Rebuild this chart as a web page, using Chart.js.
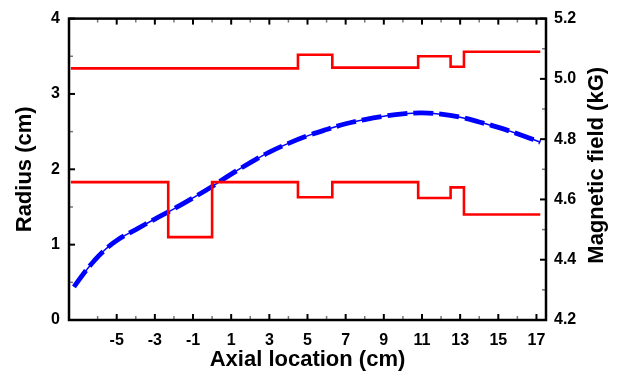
<!DOCTYPE html>
<html>
<head>
<meta charset="utf-8">
<script src="https://cdn.jsdelivr.net/npm/chart.js@4.4.1/dist/chart.umd.min.js"></script>
<style>
  html, body { margin: 0; padding: 0; background: #fff; }
  #wrap { width: 618px; height: 376px; }
</style>
</head>
<body>
<div id="wrap"><canvas id="fieldChart" width="618" height="376"></canvas></div>
<script>
// Electrode radius steps (left axis, cm): x where a step starts, radius after it
const outerEdges = [-7.4, 4.5, 6.3, 10.8, 12.5, 13.2, 17.2];
const outerRadius = [3.34, 3.52, 3.35, 3.50, 3.36, 3.56, 3.56];
const innerEdges = [-7.4, -2.3, 0.0, 4.5, 6.3, 10.8, 12.5, 13.2, 17.2];
const innerRadius = [1.83, 1.10, 1.83, 1.63, 1.83, 1.62, 1.76, 1.40, 1.40];

// Magnetic field profile (right axis, kG)
const fieldX = [-7.24, -6.7, -6.2, -5.7, -5, -4, -3, -2, -1, 0, 1, 2, 3, 4, 5, 6, 7, 8, 9, 10, 11, 12, 13, 14, 15, 16, 17.2];
const fieldKG = [4.310, 4.357, 4.395, 4.428, 4.464, 4.500, 4.535, 4.569, 4.605, 4.643, 4.684, 4.722, 4.757, 4.786, 4.811, 4.832, 4.851, 4.865, 4.876, 4.884, 4.887, 4.883, 4.873, 4.857, 4.839, 4.818, 4.790];

// Tick positions
const xTicks = [-5, -3, -1, 1, 3, 5, 7, 9, 11, 13, 15, 17];
const xMinorTicks = [-6, -4, -2, 0, 2, 4, 6, 8, 10, 12, 14, 16];
const radiusTicks = [0, 1, 2, 3, 4];
const radiusMinorTicks = [0.5, 1.5, 2.5, 3.5];
const fieldTicks = [4.2, 4.4, 4.6, 4.8, 5.0, 5.2];
const fieldMinorTicks = [4.3, 4.5, 4.7, 4.9, 5.1];

const FONT = "'Liberation Sans', Arial, sans-serif";

function toPoints(xs, ys) {
  return xs.map((x, i) => ({ x: x, y: ys[i] }));
}

// frame with inward ticks, plus the right-hand title read bottom-to-top
const framePlugin = {
  id: 'framePlugin',
  afterDatasetsDraw(chart) {
    const { ctx, chartArea: a, scales } = chart;
    ctx.save();
    ctx.lineCap = 'butt';

    function line(x1, y1, x2, y2, color, w) {
      ctx.beginPath();
      ctx.strokeStyle = color;
      ctx.lineWidth = w;
      ctx.moveTo(x1, y1);
      ctx.lineTo(x2, y2);
      ctx.stroke();
    }

    xTicks.forEach(v => {
      const px = scales.x.getPixelForValue(v);
      line(px, a.bottom, px, a.bottom - 6, '#000', 2);
      line(px, a.top, px, a.top + 6, '#000', 2);
    });
    xMinorTicks.forEach(v => {
      const px = scales.x.getPixelForValue(v);
      line(px, a.bottom, px, a.bottom - 4, '#777', 1.5);
      line(px, a.top, px, a.top + 4, '#777', 1.5);
    });
    radiusTicks.forEach(v => {
      const py = scales.y.getPixelForValue(v);
      line(a.left, py, a.left + 6, py, '#000', 2);
    });
    radiusMinorTicks.forEach(v => {
      const py = scales.y.getPixelForValue(v);
      line(a.left, py, a.left + 4, py, '#777', 1.5);
    });
    fieldTicks.forEach(v => {
      const py = scales.y1.getPixelForValue(v);
      line(a.right, py, a.right - 6, py, '#000', 2);
    });
    fieldMinorTicks.forEach(v => {
      const py = scales.y1.getPixelForValue(v);
      line(a.right, py, a.right - 4, py, '#777', 1.5);
    });

    ctx.strokeStyle = '#000';
    ctx.lineWidth = 2.5;
    ctx.strokeRect(a.left, a.top, a.right - a.left, a.bottom - a.top);

    ctx.translate(597, (a.top + a.bottom) / 2 - 4);
    ctx.rotate(-Math.PI / 2);
    ctx.fillStyle = '#000';
    ctx.font = 'bold 22px ' + FONT;
    ctx.textAlign = 'center';
    ctx.textBaseline = 'middle';
    ctx.fillText('Magnetic field (kG)', 0, 0);
    ctx.restore();
  }
};

const tickFont = { family: FONT, size: 16, weight: 'bold' };

new Chart(document.getElementById('fieldChart').getContext('2d'), {
  type: 'line',
  data: {
    datasets: [
      {
        label: 'Outer electrode',
        data: toPoints(outerEdges, outerRadius),
        yAxisID: 'y',
        stepped: 'before',
        borderColor: '#ff0000',
        borderWidth: 2.6,
        pointRadius: 0,
        fill: false
      },
      {
        label: 'Inner electrode',
        data: toPoints(innerEdges, innerRadius),
        yAxisID: 'y',
        stepped: 'before',
        borderColor: '#ff0000',
        borderWidth: 2.6,
        pointRadius: 0,
        fill: false
      },
      {
        label: 'Field (thin)',
        data: toPoints(fieldX, fieldKG),
        yAxisID: 'y1',
        borderColor: '#0000ff',
        borderWidth: 1.5,
        tension: 0.4,
        pointRadius: 0,
        fill: false
      },
      {
        label: 'Field',
        data: toPoints(fieldX, fieldKG),
        yAxisID: 'y1',
        borderColor: '#0000ff',
        borderWidth: 4.8,
        borderDash: [20, 6],
        tension: 0.4,
        pointRadius: 0,
        fill: false
      }
    ]
  },
  options: {
    responsive: false,
    animation: false,
    devicePixelRatio: 1,
    layout: { padding: { top: 13, left: 0, right: 0, bottom: 0 } },
    plugins: {
      legend: { display: false },
      tooltip: { enabled: false }
    },
    scales: {
      x: {
        type: 'linear',
        min: -7.5,
        max: 17.5,
        grid: { display: false, drawTicks: false },
        border: { display: false },
        afterBuildTicks: s => { s.ticks = xTicks.map(v => ({ value: v })); },
        afterFit: s => { s.height = 56; },
        ticks: {
          autoSkip: false,
          maxRotation: 0,
          padding: 11,
          color: '#000',
          font: tickFont,
          callback: v => String(v)
        },
        title: {
          display: true,
          text: 'Axial location (cm)',
          color: '#000',
          font: { family: FONT, size: 22, weight: 'bold' },
          padding: { top: 0, bottom: 3 }
        }
      },
      y: {
        type: 'linear',
        position: 'left',
        min: 0,
        max: 4,
        grid: { display: false, drawTicks: false },
        border: { display: false },
        afterBuildTicks: s => { s.ticks = radiusTicks.map(v => ({ value: v })); },
        afterFit: s => { s.width = 69; },
        ticks: {
          padding: 9,
          color: '#000',
          font: tickFont,
          callback: v => String(v)
        },
        title: {
          display: true,
          text: 'Radius (cm)',
          color: '#000',
          font: { family: FONT, size: 22, weight: 'bold' },
          padding: { top: 12, bottom: 0 }
        }
      },
      y1: {
        type: 'linear',
        position: 'right',
        min: 4.2,
        max: 5.2,
        grid: { display: false, drawTicks: false },
        border: { display: false },
        afterBuildTicks: s => { s.ticks = fieldTicks.map(v => ({ value: v })); },
        afterFit: s => { s.width = 72; },
        ticks: {
          padding: 8,
          color: '#000',
          font: tickFont,
          callback: v => v.toFixed(1)
        }
      }
    }
  },
  plugins: [framePlugin]
});
</script>
</body>
</html>
